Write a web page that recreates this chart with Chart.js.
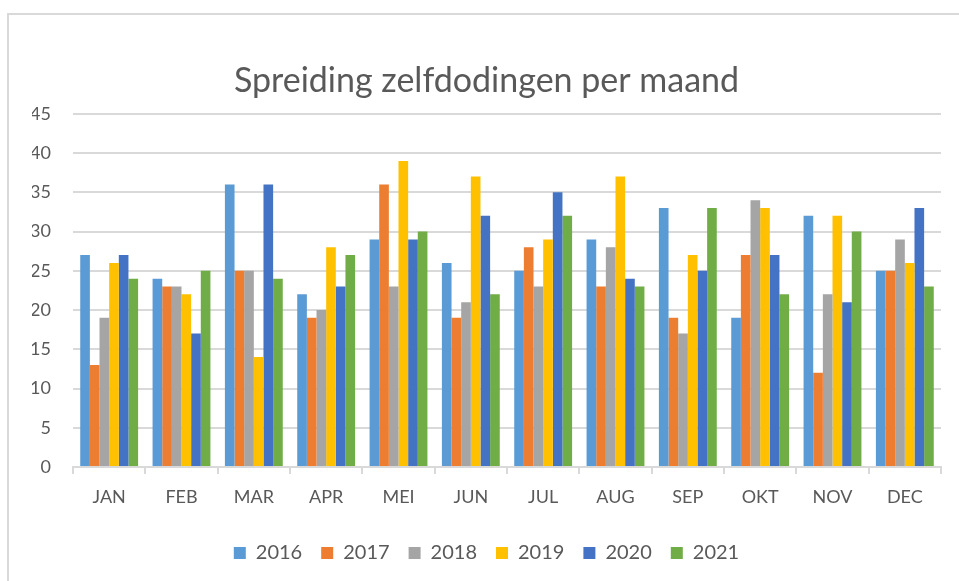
<!DOCTYPE html>
<html>
<head>
<meta charset="utf-8">
<script src="https://cdn.jsdelivr.net/npm/chart.js@4.4.0/dist/chart.umd.min.js"></script>
<style>
  html, body { margin: 0; padding: 0; background: #fff; overflow: hidden; }
  #wrap { position: absolute; left: 0; top: 0; width: 959px; height: 581px; }
  #frame { position: absolute; left: 7px; top: 13px; width: 970px; height: 600px;
           border-top: 2px solid #d9d9d9; border-left: 2px solid #d9d9d9; pointer-events: none; }
</style>
</head>
<body>
<div id="wrap"><canvas id="chart" width="959" height="581"></canvas></div>
<div id="frame"></div>
<script>
const months = ['JAN', 'FEB', 'MAR', 'APR', 'MEI', 'JUN', 'JUL', 'AUG', 'SEP', 'OKT', 'NOV', 'DEC'];
const years = ['2016', '2017', '2018', '2019', '2020', '2021'];
const y2016 = [27, 24, 36, 22, 29, 26, 25, 29, 33, 19, 32, 25];
const y2017 = [13, 23, 25, 19, 36, 19, 28, 23, 19, 27, 12, 25];
const y2018 = [19, 23, 25, 20, 23, 21, 23, 28, 17, 34, 22, 29];
const y2019 = [26, 22, 14, 28, 39, 37, 29, 37, 27, 33, 32, 26];
const y2020 = [27, 17, 36, 23, 29, 32, 35, 24, 25, 27, 21, 33];
const y2021 = [24, 25, 24, 27, 30, 22, 32, 23, 33, 22, 30, 23];
const colors = ['#5B9BD5', '#ED7D31', '#A5A5A5', '#FFC000', '#4472C4', '#70AD47'];

const series = [y2016, y2017, y2018, y2019, y2020, y2021];
const textColor = '#595959';
const font = "Lato, 'Open Sans', sans-serif";

new Chart(document.getElementById('chart'), {
    type: 'bar',
    data: {
        labels: months,
        datasets: series.map((s, i) => ({
            label: years[i],
            data: s,
            backgroundColor: colors[i],
            categoryPercentage: 0.8,
            barPercentage: 1.0
        }))
    },
    options: {
        responsive: false,
        animation: false,
        layout: { padding: { left: 32, right: 18, top: 53, bottom: 8 } },
        plugins: {
            title: {
                display: true,
                text: 'Spreiding zelfdodingen per maand',
                color: textColor,
                font: { family: font, size: 34, weight: 'normal' },
                padding: { top: 8, bottom: 12 }
            },
            legend: {
                position: 'bottom',
                labels: {
                    color: textColor,
                    font: { family: font, size: 20 },
                    boxWidth: 12, boxHeight: 12,
                    padding: 19
                }
            },
            tooltip: { enabled: false }
        },
        scales: {
            x: {
                grid: { drawOnChartArea: false, drawTicks: true, tickLength: 7, color: '#d9d9d9', lineWidth: 2 },
                border: { color: '#d9d9d9', width: 2 },
                ticks: { color: textColor, font: { family: font, size: 18 }, padding: 12 },
                afterFit: s => { s.height = 57; }
            },
            y: {
                min: 0, max: 45,
                ticks: { stepSize: 5, color: textColor, font: { family: font, size: 18 }, padding: 22 },
                grid: { color: '#d9d9d9', lineWidth: 2, drawTicks: false },
                border: { display: false },
                afterFit: s => { s.width = 41; }
            }
        }
    }
});
</script>
</body>
</html>
